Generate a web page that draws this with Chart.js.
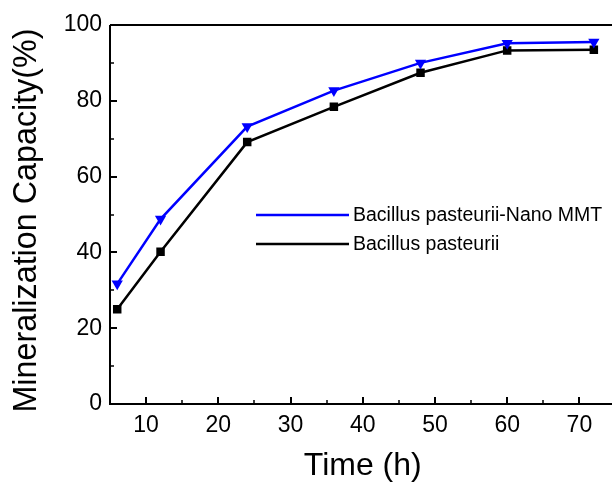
<!DOCTYPE html>
<html>
<head>
<meta charset="utf-8">
<script src="https://cdn.jsdelivr.net/npm/chart.js@4"></script>
<style>
html, body { margin: 0; padding: 0; background: #fff; overflow: hidden; }
#wrap { width: 612px; height: 482px; overflow: hidden; }
</style>
</head>
<body>
<div id="wrap"><canvas id="myChart" width="622" height="482"></canvas></div>
<script>
// values
let hours = [6, 12, 24, 36, 48, 60, 72];
let nanoMMT = [31.7, 48.8, 73.2, 82.7, 90.0, 95.2, 95.5];
let pasteurii = [25.0, 40.2, 69.1, 78.4, 87.4, 93.3, 93.5];
let xTicks = [10, 20, 30, 40, 50, 60, 70];
let xMinor = [15, 25, 35, 45, 55, 65];
let yTicks = [0, 20, 40, 60, 80, 100];
let yMinor = [10, 30, 50, 70, 90];
let yTitle = 'Mineralization Capacity(%)';

const font = 'Liberation Sans, Arial, sans-serif';

function points(ys) {
    return hours.map((h, i) => ({ x: h, y: ys[i] }));
}

// axes drawn as an open frame with inward ticks, y title and the legend inside the plot
// (the plot runs on past the right edge of the picture, as in the original)
const frame = {
    id: 'frame',
    afterDraw(chart) {
        const ctx = chart.ctx;
        const a = chart.chartArea;
        const x = chart.scales.x;
        const y = chart.scales.y;
        ctx.save();
        ctx.strokeStyle = '#000';
        ctx.lineCap = 'butt';
        ctx.lineWidth = 2;
        ctx.beginPath();
        ctx.moveTo(a.left, a.top);
        ctx.lineTo(a.left, a.bottom);
        ctx.lineTo(a.right, a.bottom);
        ctx.moveTo(a.left, a.top);
        ctx.lineTo(a.right, a.top);
        xTicks.forEach(v => {
            let px = Math.round(x.getPixelForValue(v));
            ctx.moveTo(px, a.bottom);
            ctx.lineTo(px, a.bottom - 7);
        });
        yTicks.forEach(v => {
            let py = Math.round(y.getPixelForValue(v));
            ctx.moveTo(a.left, py);
            ctx.lineTo(a.left + 7, py);
        });
        ctx.stroke();
        ctx.lineWidth = 1.5;
        ctx.beginPath();
        xMinor.forEach(v => {
            let px = Math.round(x.getPixelForValue(v));
            ctx.moveTo(px, a.bottom);
            ctx.lineTo(px, a.bottom - 4);
        });
        yMinor.forEach(v => {
            let py = Math.round(y.getPixelForValue(v));
            ctx.moveTo(a.left, py);
            ctx.lineTo(a.left + 4, py);
        });
        ctx.stroke();

        ctx.fillStyle = '#000';
        ctx.textBaseline = 'middle';

        // y title, a little below the middle of the axis
        ctx.save();
        ctx.font = '32.3px ' + font;
        ctx.textAlign = 'center';
        ctx.translate(27, (a.top + a.bottom) / 2 + 6);
        ctx.rotate(-Math.PI / 2);
        ctx.fillText(yTitle, 0, 0);
        ctx.restore();

        // legend
        ctx.font = '19.5px ' + font;
        chart.data.datasets.forEach((ds, i) => {
            let ly = a.top + 190 + i * 29;
            let lx = a.left + 146;
            ctx.strokeStyle = ds.borderColor;
            ctx.lineWidth = 2.5;
            ctx.beginPath();
            ctx.moveTo(lx, ly);
            ctx.lineTo(lx + 93, ly);
            ctx.stroke();
            ctx.fillText(ds.label, lx + 97, ly + 1);
        });
        ctx.restore();
    }
};

new Chart(document.getElementById('myChart'), {
    type: 'line',
    data: {
        datasets: [{
            label: 'Bacillus pasteurii-Nano MMT',
            data: points(nanoMMT),
            borderColor: '#0000FF',
            backgroundColor: '#0000FF',
            borderWidth: 2.5,
            pointStyle: 'triangle',
            pointRotation: 180,
            pointRadius: 6.5,
            pointBorderWidth: 0
        },
        {
            label: 'Bacillus pasteurii',
            data: points(pasteurii),
            borderColor: '#000000',
            backgroundColor: '#000000',
            borderWidth: 2.5,
            pointStyle: 'rect',
            pointRadius: 6,
            pointBorderWidth: 0
        }]
    },
    options: {
        responsive: false,
        animation: false,
        devicePixelRatio: 1,
        layout: { padding: { left: 0, top: 25, right: 1, bottom: 0 } },
        plugins: { legend: { display: false }, tooltip: { enabled: false } },
        scales: {
            x: {
                type: 'linear',
                min: 5,
                max: 75,
                grid: { display: false, drawTicks: false },
                border: { display: false },
                afterBuildTicks: s => { s.ticks = xTicks.map(v => ({ value: v })); },
                afterFit: s => { s.height = 78; },
                ticks: { color: '#000', font: { family: font, size: 23 }, padding: 8, maxRotation: 0 },
                title: { display: true, text: 'Time (h)', color: '#000', font: { family: font, size: 32, lineHeight: 1 }, padding: { top: 0, bottom: 0 } }
            },
            y: {
                min: 0,
                max: 100,
                grid: { display: false, drawTicks: false },
                border: { display: false },
                afterBuildTicks: s => { s.ticks = yTicks.map(v => ({ value: v })); },
                afterFit: s => { s.width = 110; },
                ticks: { color: '#000', font: { family: font, size: 23 }, padding: 8 }
            }
        }
    },
    plugins: [frame]
});
</script>
</body>
</html>
